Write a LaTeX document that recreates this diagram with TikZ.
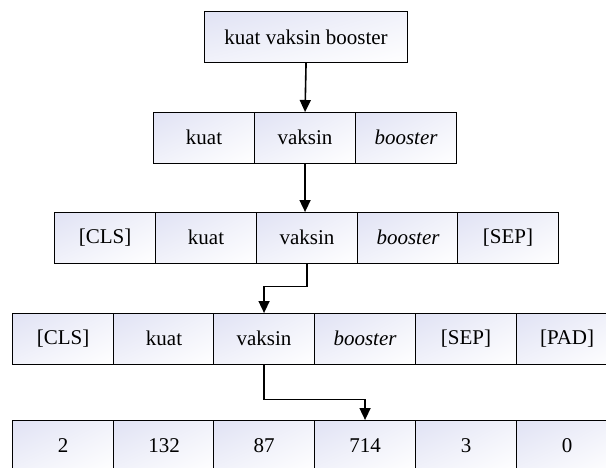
\documentclass[tikz,border=0pt]{standalone}
\usepackage{fontspec}
\setmainfont{Liberation Serif}
\usetikzlibrary{arrows.meta,shadings}
\definecolor{lav}{RGB}{224,226,244}
\tikzset{
  cell/.style={draw=black, line width=1.1pt, anchor=north west,
    minimum width=101pt, minimum height=50.5pt, inner sep=0pt,
    upper left=lav, upper right=lav!45!white,
    lower left=lav!45!white, lower right=white,
    font=\fontsize{21}{24}\selectfont},
  flow/.style={line width=1.6pt, -{Triangle[length=12pt,width=11pt]}}
}
\begin{document}
\begin{tikzpicture}[x=1pt,y=-1pt]
\useasboundingbox (0,0) rectangle (606,467);
\clip (0,0) rectangle (606,467);
% raw sentence
\node[cell, minimum width=203pt, minimum height=51pt] (src) at (204,11) {kuat vaksin booster};
% word tokens
\node[cell] (a1) at (153,112) {kuat};
\node[cell] (a2) at (254,112) {vaksin};
\node[cell] (a3) at (355,112) {\itshape booster};
% with special tokens
\node[cell] (b1) at (54,212) {[CLS]};
\node[cell] (b2) at (155,212) {kuat};
\node[cell] (b3) at (256,212) {vaksin};
\node[cell] (b4) at (357,212) {\itshape booster};
\node[cell] (b5) at (457,212) {[SEP]};
% padded sequence
\node[cell] (c1) at (12,313) {[CLS]};
\node[cell] (c2) at (113,313) {kuat};
\node[cell] (c3) at (213,313) {vaksin};
\node[cell] (c4) at (314,313) {\itshape booster};
\node[cell] (c5) at (415,313) {[SEP]};
\node[cell] (c6) at (516,313) {[PAD]};
% token ids
\node[cell] (d1) at (12,420) {2};
\node[cell] (d2) at (113,420) {132};
\node[cell] (d3) at (213,420) {87};
\node[cell] (d4) at (314,420) {714};
\node[cell] (d5) at (415,420) {3};
\node[cell] (d6) at (516,420) {0};
% connectors
\draw[flow] (src.south) -- (a2.north);
\draw[flow] (a2.south) -- (a2.south |- b3.north);
\draw[flow] (b3.south) -- ++(0,23) -| (c3.north);
\draw[flow] (c3.south) -- ++(0,35) -| (d4.north);
\end{tikzpicture}
\end{document}
